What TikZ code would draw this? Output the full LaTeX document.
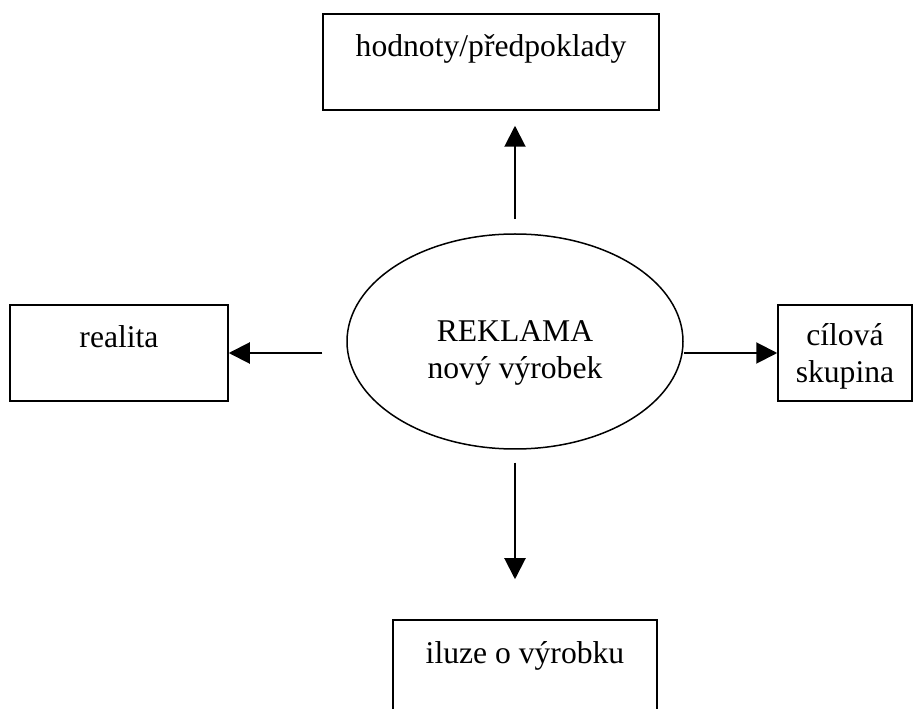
\documentclass[tikz,border=0pt]{standalone}
\usepackage{fontspec}
\setmainfont{Liberation Serif}
\usetikzlibrary{positioning}
\usetikzlibrary{arrows.meta}
\usetikzlibrary{shapes.geometric}

\begin{document}
\begin{tikzpicture}[
		box/.style = {draw, black, line width = 0.03cm, rectangle, inner xsep = 2pt, inner ysep = 0pt, text height = 0.86cm, text depth = 1.06cm, align = center},
		arr/.style = {black, line width = 0.04cm, -{Triangle[length = 0.42cm, width = 0.42cm]}},
		font = \fontsize{18}{21.6}\selectfont
	]
					\useasboundingbox (0, 0) rectangle (18.26, -14.18);
					\node[draw, black, line width = 0.03cm, ellipse, inner sep = 0pt, minimum width = 6.72cm, minimum height = 4.3cm, align = center, text height = 1.64cm, text depth = 0.14cm] (reklama) at (10.30, -6.83) {REKLAMA\\nový výrobek};
					\node[box, minimum width = 6.72cm] (hodnoty) at (9.82, -1.24) {hodnoty/předpoklady};
					\node[box, minimum width = 4.36cm] (realita) at (2.38, -7.06) {realita};
					\node[box, minimum width = 2.68cm, text height = 1.56cm, text depth = 0.36cm] (skupina) at (16.90, -7.06) {cílová\\skupina};
					\node[box, minimum width = 5.28cm] (iluze) at (10.50, -13.36) {iluze o výrobku};
					\draw[arr, shorten <= 0.28cm, shorten >= 0.3cm] (reklama.north) -- (reklama.north |- hodnoty.south);
					\draw[arr, shorten <= 0.48cm] (reklama.west |- realita.east) -- (realita.east);
					\draw[arr] (reklama.east |- skupina.west) -- (skupina.west);
					\draw[arr, shorten <= 0.26cm, shorten >= 0.8cm] (reklama.south) -- (reklama.south |- iluze.north);
				\end{tikzpicture}
\end{document}
